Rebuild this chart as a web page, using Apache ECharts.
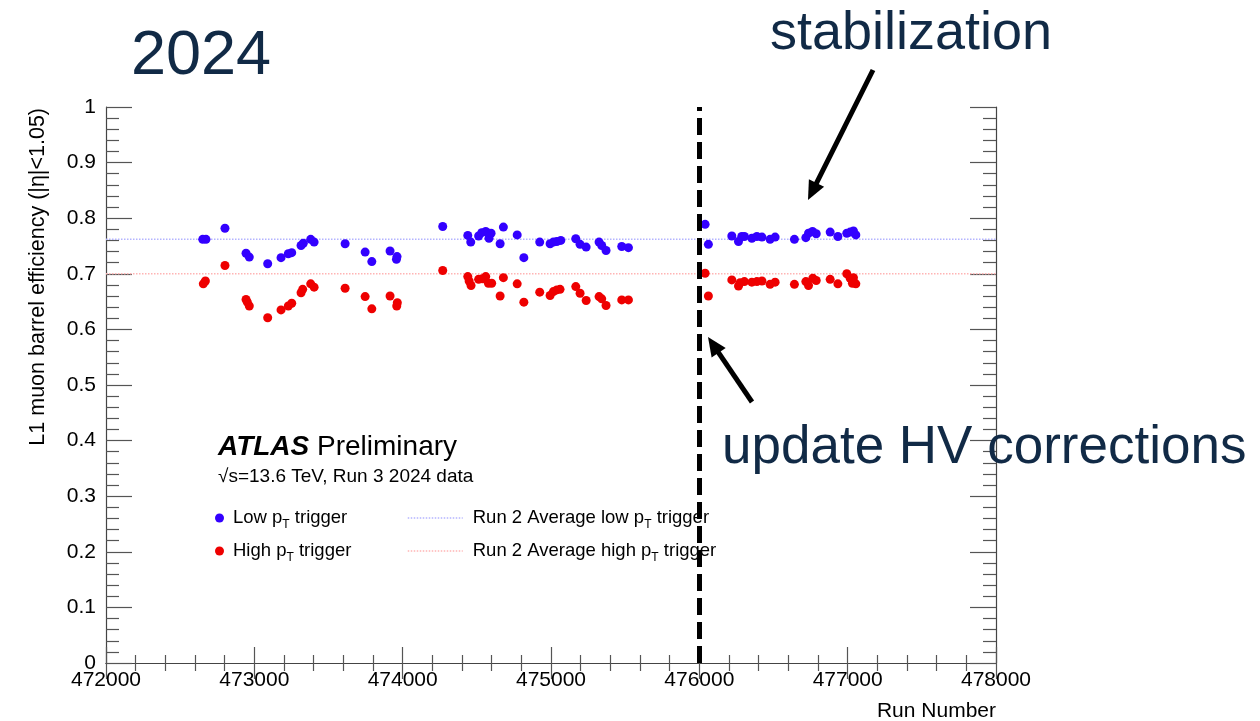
<!DOCTYPE html>
<html>
<head>
<meta charset="utf-8">
<script src="https://cdn.jsdelivr.net/npm/echarts@6/dist/echarts.min.js"></script>
<style>html,body{margin:0;padding:0;background:#fff;}#c{width:1260px;height:721px;}</style>
</head>
<body>
<div id="c"></div>
<script>
// ---------- data ----------
const runsLow = [472652,472674,472802,472944,472966,473090,473180,473229,473252,473315,473330,473380,473403,473612,473747,473792,473915,473958,473962,474270,474439,474459,474512,474533,474560,474582,474596,474657,474679,474772,474817,474924,474994,475016,475039,475066,475167,475196,475237,475324,475342,475371,475477,475522,476039,476061,476219,476264,476286,476304,476354,476388,476422,476477,476511,476641,476718,476736,476763,476788,476882,476934,476994,477017,477039,477055];
const effLow = [0.762,0.762,0.782,0.737,0.730,0.718,0.729,0.736,0.738,0.751,0.755,0.762,0.757,0.754,0.739,0.722,0.741,0.726,0.731,0.785,0.769,0.757,0.768,0.774,0.776,0.764,0.773,0.754,0.784,0.770,0.729,0.757,0.754,0.757,0.758,0.760,0.763,0.753,0.748,0.757,0.751,0.742,0.749,0.747,0.789,0.753,0.768,0.758,0.767,0.767,0.764,0.767,0.766,0.762,0.766,0.762,0.765,0.773,0.776,0.772,0.775,0.767,0.773,0.775,0.777,0.770];
const runsHigh = [472656,472670,472802,472944,472953,472966,473090,473180,473229,473252,473315,473326,473380,473403,473612,473747,473792,473915,473960,473964,474270,474439,474448,474461,474512,474537,474560,474578,474600,474657,474679,474772,474817,474924,474994,475016,475039,475061,475167,475196,475237,475324,475342,475371,475477,475522,476039,476061,476219,476264,476275,476304,476354,476388,476422,476477,476511,476641,476718,476736,476765,476788,476882,476934,476994,477017,477039,477055,477032];
const effHigh = [0.682,0.687,0.715,0.654,0.649,0.642,0.621,0.635,0.642,0.647,0.666,0.672,0.682,0.676,0.674,0.659,0.637,0.660,0.642,0.648,0.706,0.695,0.687,0.679,0.690,0.691,0.695,0.683,0.683,0.660,0.693,0.682,0.649,0.667,0.661,0.668,0.671,0.672,0.677,0.665,0.652,0.659,0.655,0.643,0.653,0.653,0.701,0.660,0.689,0.678,0.684,0.686,0.685,0.686,0.687,0.681,0.685,0.681,0.686,0.679,0.692,0.688,0.690,0.682,0.700,0.692,0.693,0.682,0.683];
const run2AvgLow = 0.762;
const run2AvgHigh = 0.700;
const xRange = [472000, 478000];
const hvUpdateRun = 476000;
const seriesNames = ['Low pT trigger', 'High pT trigger', 'Run 2 Average low pT trigger', 'Run 2 Average high pT trigger'];

// ---------- chart ----------
const FONT = 'Liberation Sans, Arial, Helvetica, sans-serif';
const NAVY = '#112a46';
const BLUE = '#3300ff';
const RED = '#ee0000';
const chart = echarts.init(document.getElementById('c'), null, {renderer: 'canvas'});

const zip = (xs, ys) => xs.map((x, i) => [x, ys[i]]);

function axisCommon(extra) {
  return Object.assign({
    type: 'value',
    axisLine: {show: true, lineStyle: {color: '#444', width: 1.2}},
    splitLine: {show: false},
    axisTick: {show: true, inside: true, lineStyle: {color: '#555', width: 1.2}},
    minorTick: {show: true, splitNumber: 5, lineStyle: {color: '#555', width: 1.2}}
  }, extra);
}

function arrow(x1, y1, x2, y2) {
  const dx = x2 - x1, dy = y2 - y1, L = Math.hypot(dx, dy), ux = dx / L, uy = dy / L;
  const hl = 19, hw = 8.5;
  const bx = x2 - ux * hl, by = y2 - uy * hl;
  return [
    {type: 'line', shape: {x1: x1, y1: y1, x2: bx + ux * 2, y2: by + uy * 2}, style: {stroke: '#000', lineWidth: 5}},
    {type: 'polygon', shape: {points: [[x2, y2], [bx - uy * hw, by + ux * hw], [bx + uy * hw, by - ux * hw]]}, style: {fill: '#000'}}
  ];
}

const subFmt = name => name.replace('pT', 'p{sub|T}');
const legendText = {
  fontFamily: FONT, fontSize: 18.5, color: '#000', lineHeight: 24,
  rich: {sub: {fontFamily: FONT, fontSize: 12, lineHeight: 12, padding: [13, 0, 0, 0], verticalAlign: 'top', color: '#000'}}
};
const hidden = {color: 'rgba(0,0,0,0)', borderColor: 'rgba(0,0,0,0)', borderWidth: 0, opacity: 0};

const option = {
  animation: false,
  backgroundColor: '#fff',
  grid: {left: 106, right: 264, top: 107, bottom: 58, containLabel: false},
  xAxis: [
    axisCommon({
      min: xRange[0], max: xRange[1], interval: 1000, position: 'bottom',
      axisTick: {show: true, inside: true, length: 16, lineStyle: {color: '#555', width: 1.2}},
      minorTick: {show: true, splitNumber: 5, length: 8, lineStyle: {color: '#555', width: 1.2}},
      axisLabel: {show: true, fontFamily: FONT, fontSize: 21, color: '#000', margin: 7, showMinLabel: true, showMaxLabel: true,
        formatter: v => String(Math.round(v))}
    }),
    axisCommon({
      min: xRange[0], max: xRange[1], interval: 1000, position: 'top',
      axisTick: {show: true, inside: true, length: 16, lineStyle: {color: '#555', width: 1.2}},
      minorTick: {show: true, splitNumber: 5, length: 8, lineStyle: {color: '#555', width: 1.2}},
      axisLabel: {show: false}
    })
  ],
  yAxis: [
    axisCommon({
      min: 0, max: 1, interval: 0.1, position: 'left',
      axisTick: {show: true, inside: true, length: 26, lineStyle: {color: '#555', width: 1.2}},
      minorTick: {show: true, splitNumber: 5, length: 13, lineStyle: {color: '#555', width: 1.2}},
      axisLabel: {show: true, fontFamily: FONT, fontSize: 21, color: '#000', margin: 10}
    }),
    axisCommon({
      min: 0, max: 1, interval: 0.1, position: 'right',
      axisTick: {show: true, inside: true, length: 26, lineStyle: {color: '#555', width: 1.2}},
      minorTick: {show: true, splitNumber: 5, length: 13, lineStyle: {color: '#555', width: 1.2}},
      axisLabel: {show: false}
    })
  ],
  legend: [
    {
      orient: 'vertical', left: 210, top: 501, itemGap: 8, itemWidth: 9, itemHeight: 9,
      selectedMode: false, formatter: subFmt, textStyle: Object.assign({}, legendText, {padding: [0, 0, 0, 4]}),
      data: [
        {name: seriesNames[0], icon: 'circle', itemStyle: {color: BLUE}},
        {name: seriesNames[1], icon: 'circle', itemStyle: {color: RED}}
      ]
    },
    {
      orient: 'vertical', left: 402, top: 501, itemGap: 8, itemWidth: 55, itemHeight: 9,
      selectedMode: false, formatter: subFmt,
      textStyle: Object.assign({}, legendText, {padding: [0, 0, 0, 5]}),
      data: [
        {name: seriesNames[2], itemStyle: hidden, lineStyle: {color: '#b4b4ff', type: 'dotted', width: 1.5}},
        {name: seriesNames[3], itemStyle: hidden, lineStyle: {color: '#ffb4b4', type: 'dotted', width: 1.5}}
      ]
    }
  ],
  series: [
    {
      name: seriesNames[2], type: 'line', symbol: 'none', showSymbol: false, silent: true, z: 1,
      lineStyle: {color: '#b4b4ff', type: 'dotted', width: 1.5}, itemStyle: {color: '#b4b4ff'},
      data: [[xRange[0], run2AvgLow], [xRange[1], run2AvgLow]]
    },
    {
      name: seriesNames[3], type: 'line', symbol: 'none', showSymbol: false, silent: true, z: 1,
      lineStyle: {color: '#ffb4b4', type: 'dotted', width: 1.5}, itemStyle: {color: '#ffb4b4'},
      data: [[xRange[0], run2AvgHigh], [xRange[1], run2AvgHigh]]
    },
    {
      name: seriesNames[0], type: 'scatter', symbol: 'circle', symbolSize: 9, z: 3,
      itemStyle: {color: BLUE, opacity: 1},
      data: zip(runsLow, effLow)
    },
    {
      name: seriesNames[1], type: 'scatter', symbol: 'circle', symbolSize: 9, z: 3,
      itemStyle: {color: RED, opacity: 1},
      data: zip(runsHigh, effHigh),
      markLine: {
        silent: true, symbol: 'none', z: 5,
        label: {show: false},
        lineStyle: {color: '#000', width: 5, type: [17, 7]},
        data: [{xAxis: hvUpdateRun}]
      }
    }
  ],
  graphic: [
    {type: 'text', x: 201, y: 57, style: {text: '2024', font: '63px ' + FONT, fill: NAVY, align: 'center', verticalAlign: 'middle'}},
    {type: 'text', x: 770, y: 34, style: {text: 'stabilization', font: '54px ' + FONT, fill: NAVY, align: 'left', verticalAlign: 'middle'}},
    {type: 'text', x: 722, y: 448, z: 10, style: {text: 'update HV corrections', font: '53px ' + FONT, fill: NAVY, align: 'left', verticalAlign: 'middle'}},
    {type: 'text', x: 218, y: 447, style: {
      text: '{b|ATLAS} Preliminary', font: '28px ' + FONT, fill: '#000', align: 'left', verticalAlign: 'middle',
      rich: {b: {fontFamily: FONT, fontSize: 28, fontWeight: 'bold', fontStyle: 'italic', fill: '#000'}}
    }},
    {type: 'text', x: 218, y: 477, style: {text: '\u221As=13.6 TeV, Run 3 2024 data', font: '19px ' + FONT, fill: '#000', align: 'left', verticalAlign: 'middle'}},
    {type: 'text', x: 38, y: 108, rotation: Math.PI / 2, style: {text: 'L1 muon barrel efficiency (|\u03B7|<1.05)', font: '21.5px ' + FONT, fill: '#000', align: 'right', verticalAlign: 'middle'}},
    {type: 'text', x: 996, y: 711, style: {text: 'Run Number', font: '21px ' + FONT, fill: '#000', align: 'right', verticalAlign: 'middle'}}
  ].concat(arrow(873, 70, 808, 200)).concat(arrow(752, 402, 708, 337))
};
chart.setOption(option);
</script>
</body>
</html>
